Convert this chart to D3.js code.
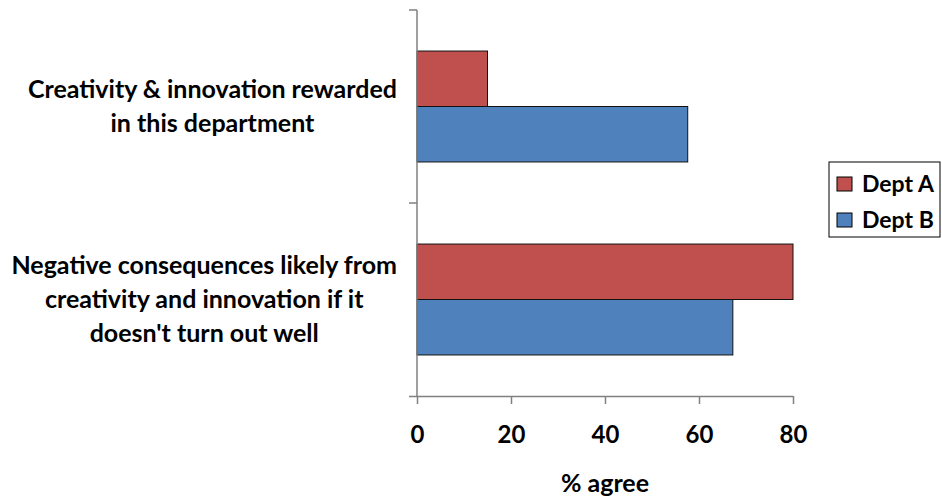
<!DOCTYPE html>
<html>
<head>
<meta charset="utf-8">
<script src="https://cdn.jsdelivr.net/npm/d3@7"></script>
<style>
  body { margin: 0; background: #fff; }
  text { font-family: Lato, "Open Sans", sans-serif; font-weight: bold; fill: #000; }
</style>
</head>
<body>
<div id="chart"></div>
<script>
// data
let categories = [
    ["Creativity & innovation rewarded", "in this department"],
    ["Negative consequences likely from", "creativity and innovation if it", "doesn't turn out well"]
];
let seriesNames = ["Dept A", "Dept B"];
let deptA = [15, 80];
let deptB = [57.6, 67.2];
let xTicks = [0, 20, 40, 60, 80];
let colors = ["#C0504D", "#4F81BD"];

let svgWidth = 942;
let svgHeight = 502;
let svg = d3.select("#chart")
    .append("svg")
    .attr("width", svgWidth)
    .attr("height", svgHeight);

let plot = { left: 417, right: 793, top: 10, bottom: 396 };

let xScale = d3.scaleLinear()
    .domain([0, 80])
    .range([plot.left, plot.right]);

let catIdx = categories.map((c, i) => i);
let yScale = d3.scaleBand()
    .domain(catIdx)
    .range([plot.top, plot.bottom])
    .padding(0);

let ySub = d3.scaleBand()
    .domain(seriesNames)
    .range([0, yScale.bandwidth()])
    .paddingInner(0)
    .paddingOuter(0.74);

let rows = catIdx.map(i => ({ i: i, values: [deptA[i], deptB[i]] }));

// bars
let groups = svg.selectAll("g.cat")
    .data(rows)
    .enter()
    .append("g")
    .attr("class", "cat")
    .attr("transform", d => `translate(0,${yScale(d.i)})`);

groups.selectAll("rect")
    .data(d => d.values.map((v, k) => ({ name: seriesNames[k], value: v, k: k })))
    .enter()
    .append("rect")
    .attr("x", xScale(0))
    .attr("y", d => ySub(d.name))
    .attr("width", d => xScale(d.value) - xScale(0))
    .attr("height", ySub.bandwidth())
    .attr("fill", d => colors[d.k])
    .attr("stroke", "#111")
    .attr("stroke-width", 1);

// x axis
let xAxis = d3.axisBottom(xScale)
    .tickValues(xTicks)
    .tickSize(8)
    .tickSizeOuter(0)
    .tickPadding(22);
let gx = svg.append("g")
    .attr("transform", `translate(0,${plot.bottom})`)
    .call(xAxis);
gx.select(".domain").attr("stroke", "#808080").attr("stroke-width", 1.5)
    .attr("d", `M${plot.left - 8},0.5H${plot.right}`);
gx.selectAll(".tick line").attr("stroke", "#808080").attr("stroke-width", 1.5);
gx.selectAll(".tick text")
    .style("font-size", "24px")
    .style("font-family", "Lato, sans-serif")
    .style("font-weight", "bold")
    .attr("fill", "#000");

// y axis: line with ticks at category boundaries
let yBounds = catIdx.map(i => yScale(i)).concat([plot.bottom]);
svg.append("line")
    .attr("x1", plot.left).attr("x2", plot.left)
    .attr("y1", plot.top).attr("y2", plot.bottom)
    .attr("stroke", "#808080").attr("stroke-width", 1.5);
svg.selectAll("line.ytick")
    .data(yBounds.slice(0, -1))
    .enter()
    .append("line")
    .attr("class", "ytick")
    .attr("x1", plot.left - 8).attr("x2", plot.left)
    .attr("y1", d => d).attr("y2", d => d)
    .attr("stroke", "#808080").attr("stroke-width", 1.5);

// category labels, centred block whose widest line ends near the axis
let lineH = 34;
let labelRight = 397;
svg.selectAll("text.cat-label")
    .data(rows)
    .enter()
    .append("text")
    .attr("class", "cat-label")
    .attr("text-anchor", "middle")
    .style("font-size", "25px")
    .each(function(d) {
        let lines = categories[d.i];
        let cy = yScale(d.i) + yScale.bandwidth() / 2;
        let y0 = cy - (lines.length - 1) * lineH / 2;
        let sel = d3.select(this);
        let spans = sel.selectAll("tspan")
            .data(lines)
            .enter()
            .append("tspan")
            .attr("y", (l, j) => y0 + j * lineH)
            .attr("dy", "0.35em")
            .text(l => l);
        let maxW = d3.max(spans.nodes(), n => n.getComputedTextLength());
        spans.attr("x", labelRight - maxW / 2);
    });

// x label
svg.append("text")
    .attr("x", 605)
    .attr("y", 483)
    .attr("dy", "0.35em")
    .attr("text-anchor", "middle")
    .style("font-size", "25px")
    .text("% agree");

// legend
let legend = svg.append("g").attr("transform", "translate(829,162)");
legend.append("rect")
    .attr("width", 111).attr("height", 75)
    .attr("fill", "#fff").attr("stroke", "#000").attr("stroke-width", 1);
let items = legend.selectAll("g.item")
    .data(seriesNames)
    .enter()
    .append("g")
    .attr("class", "item")
    .attr("transform", (d, i) => `translate(8,${15 + i * 36})`);
items.append("rect")
    .attr("width", 15).attr("height", 14)
    .attr("fill", (d, i) => colors[i])
    .attr("stroke", "#000").attr("stroke-width", 1);
items.append("text")
    .attr("x", 25)
    .attr("y", 7)
    .attr("dy", "0.35em")
    .style("font-size", "23px")
    .text(d => d);
</script>
</body>
</html>
